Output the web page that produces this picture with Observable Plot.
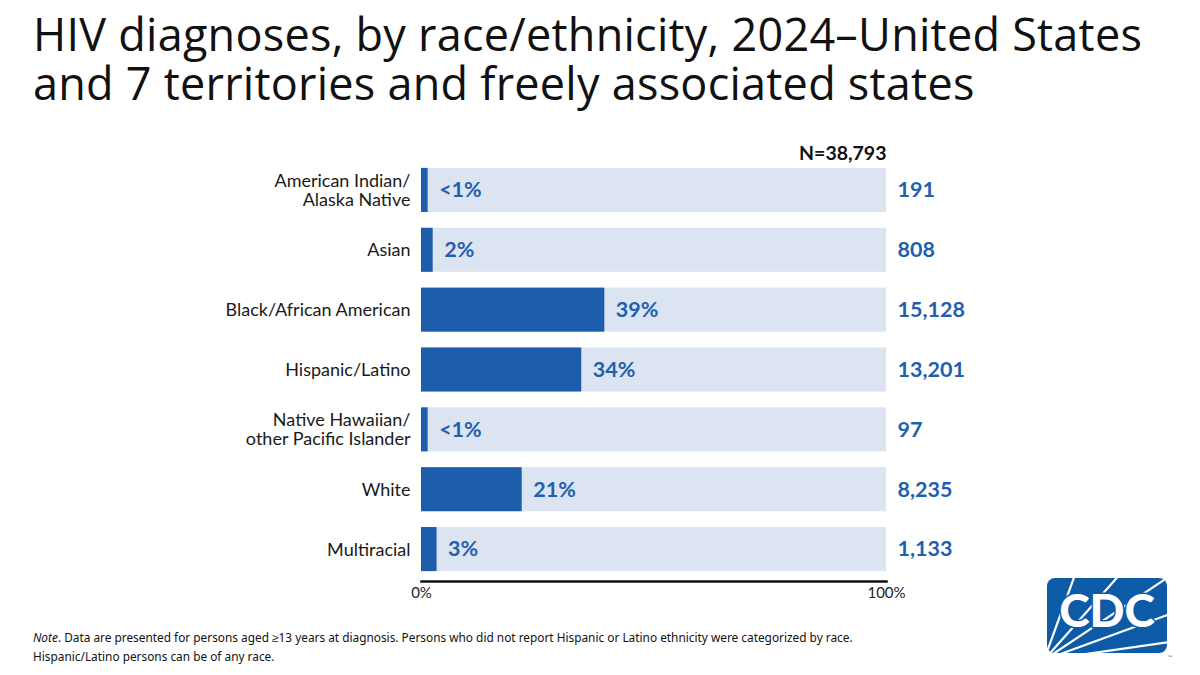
<!DOCTYPE html>
<html>
<head>
<meta charset="utf-8">
<script src="https://cdn.jsdelivr.net/npm/d3@7"></script>
<script src="https://cdn.jsdelivr.net/npm/@observablehq/plot@0.6"></script>
<style>
  html, body { margin: 0; padding: 0; background: #fff; }
  #page { position: relative; width: 1200px; height: 675px; overflow: hidden; background: #fff; }
  .title { position: absolute; left: 33px; font-family: "Open Sans", sans-serif; font-size: 45px; line-height: 50px; color: #111; letter-spacing: 0.25px; white-space: nowrap; }
  #title1 { top: 9px; }
  #title2 { top: 58px; }
  #chart { position: absolute; left: 0; top: 140px; }
  #note { position: absolute; left: 33px; top: 628px; font-family: "Noto Sans", sans-serif; font-size: 11.85px; line-height: 19px; color: #111; }
  #logo { position: absolute; left: 1040px; top: 572px; }
</style>
</head>
<body>
<div id="page">
  <div class="title" id="title1">HIV diagnoses, by race/ethnicity, 2024–United States</div>
  <div class="title" id="title2">and 7 territories and freely associated states</div>
  <div id="chart"></div>
  <div id="note"><i>Note</i>. Data are presented for persons aged ≥13 years at diagnosis. Persons who did not report Hispanic or Latino ethnicity were categorized by race.<br>Hispanic/Latino persons can be of any race.</div>
  <svg id="logo" width="140" height="95" viewBox="0 0 140 95">
    <defs><clipPath id="lc"><rect x="7" y="6" width="120" height="75" rx="8"/></clipPath></defs>
    <rect x="7" y="6" width="120" height="75" rx="8" fill="#0d5aa7"/>
    <g clip-path="url(#lc)" stroke="#fff" stroke-width="2.2">
      <line x1="4" y1="88" x2="36" y2="0"/>
      <line x1="4" y1="88" x2="82" y2="0"/>
      <line x1="4" y1="88" x2="130" y2="4"/>
      <line x1="4" y1="88" x2="130" y2="42"/>
      <line x1="4" y1="88" x2="130" y2="70"/>
    </g>
    <text x="67" y="55" text-anchor="middle" font-family="Lato, sans-serif" font-weight="900" font-size="46" fill="#fff" stroke="#0d5aa7" stroke-width="3" paint-order="stroke">CDC</text>
    <text x="128" y="87" font-family="Lato, sans-serif" font-size="5" fill="#0d5aa7">™</text>
  </svg>
</div>
<script>
// Diagnoses by race/ethnicity, 2024
const categories = [
  "American Indian/Alaska Native",
  "Asian",
  "Black/African American",
  "Hispanic/Latino",
  "Native Hawaiian/other Pacific Islander",
  "White",
  "Multiracial"
];
const tickLabels = [
  "American Indian/\nAlaska Native",
  "Asian",
  "Black/African American",
  "Hispanic/Latino",
  "Native Hawaiian/\nother Pacific Islander",
  "White",
  "Multiracial"
];
const counts = [191, 808, 15128, 13201, 97, 8235, 1133];
const percentLabels = ["<1%", "2%", "39%", "34%", "<1%", "21%", "3%"];
const total = 38793;
const xTicks = [0, 100];

const dark = "#1c5eab";
const light = "#dbe4f0";
const labelBlue = "#1f60ae";

// share of total, with very small groups kept visible
const rows = categories.map((c, i) => ({
  category: c,
  count: counts[i],
  share: Math.max(counts[i] / total * 100, 1),
  pctLabel: percentLabels[i],
  countLabel: d3.format(",")(counts[i])
}));
const tickFor = new Map(categories.map((c, i) => [c, tickLabels[i]]));

const chart = Plot.plot({
  width: 1000,
  height: 475,
  marginLeft: 421,
  marginRight: 114,
  marginTop: 20,
  marginBottom: 36,
  style: { fontFamily: "Lato, sans-serif", background: "transparent" },
  x: { domain: [0, 100] },
  y: { domain: categories, paddingInner: 0.264, paddingOuter: 0.132, round: false },
  marks: [
    Plot.barX(rows, { y: "category", x1: 0, x2: 100, fill: light }),
    Plot.barX(rows, { y: "category", x1: 0, x2: "share", fill: dark, insetRight: -2 }),
    Plot.text(rows, { y: "category", x: "share", text: "pctLabel", textAnchor: "start", dx: 13, fill: labelBlue, fontSize: 21.5, fontWeight: "bold" }),
    Plot.text(rows, { y: "category", x: 100, text: "countLabel", textAnchor: "start", dx: 11, fill: labelBlue, fontSize: 21.5, fontWeight: "bold" }),
    Plot.text([`N=${d3.format(",")(total)}`], { frameAnchor: "top-right", lineAnchor: "bottom", dy: -1, fill: "#111", fontSize: 19.5, fontWeight: "bold" }),
    Plot.axisY({ tickSize: 0, tickPadding: 11, fontSize: 18, fill: "#1a1a1a", lineHeight: 1.05, tickFormat: (d) => tickFor.get(d), label: null }),
    Plot.axisX({ ticks: xTicks, tickSize: 0, tickPadding: 8, fontSize: 15, fill: "#222", tickFormat: (d) => d + "%", label: null }),
    Plot.frame({ anchor: "bottom", stroke: "#111", strokeWidth: 2.6, dy: 2 })
  ]
});
document.getElementById("chart").appendChild(chart);
</script>
</body>
</html>
